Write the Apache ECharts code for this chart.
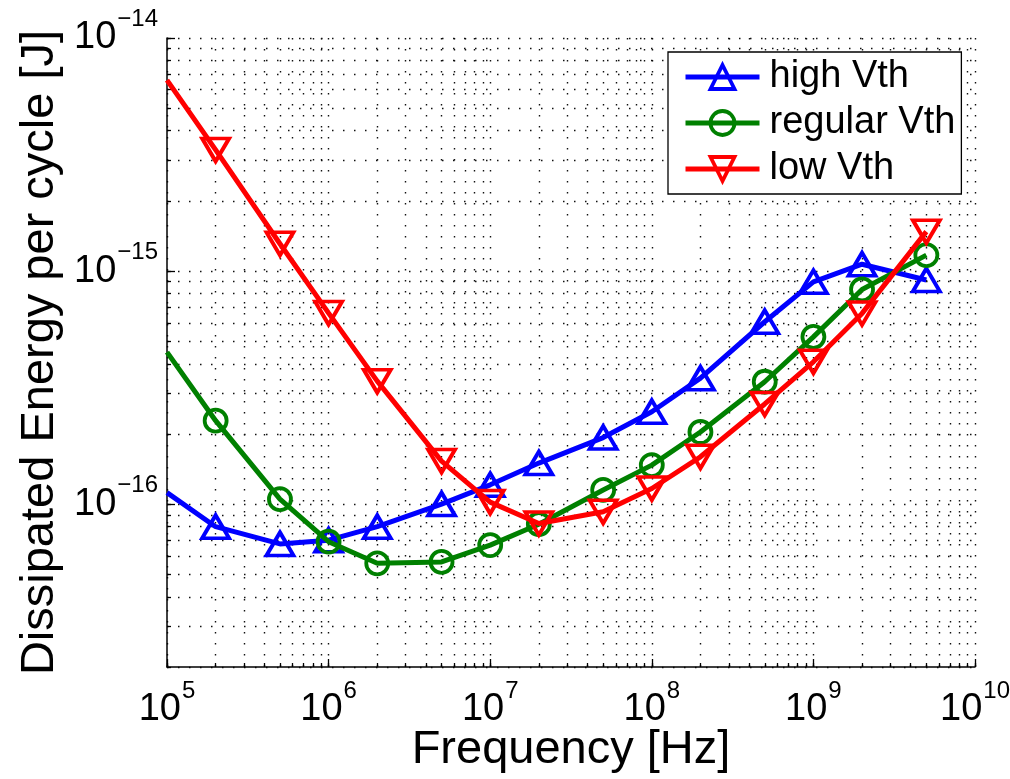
<!DOCTYPE html>
<html><head><meta charset="utf-8">
<script src="https://cdn.jsdelivr.net/npm/echarts@6.0.0/dist/echarts.min.js"></script>
<style>html,body{margin:0;padding:0;background:#fff}#c{width:1010px;height:779px}</style>
</head><body><div id="c"></div>
<script>
const frequencies = [1e5, 2e5, 5e5, 1e6, 2e6, 5e6, 1e7, 2e7, 5e7, 1e8, 2e8, 5e8, 1e9, 2e9, 5e9];
const highVth    = [1.12e-16, 8.0e-17, 6.75e-17, 7.0e-17, 8.0e-17, 1.0e-16, 1.21e-16, 1.50e-16, 1.93e-16, 2.49e-16, 3.47e-16, 6.06e-16, 8.99e-16, 1.07e-15, 9.15e-16];
const regularVth = [4.49e-16, 2.28e-16, 1.05e-16, 6.9e-17, 5.57e-17, 5.65e-17, 6.67e-17, 8.2e-17, 1.15e-16, 1.47e-16, 2.04e-16, 3.35e-16, 5.22e-16, 8.34e-16, 1.17e-15];
const lowVth     = [6.6e-15, 3.31e-15, 1.31e-15, 6.6e-16, 3.37e-16, 1.53e-16, 1.02e-16, 8.26e-17, 9.27e-17, 1.167e-16, 1.596e-16, 2.69e-16, 4.08e-16, 6.58e-16, 1.476e-15];
const seriesNames = ['high Vth', 'regular Vth', 'low Vth'];
const xMajorTicks = [1e5, 1e6, 1e7, 1e8, 1e9, 1e10];
const yDecades = [1e-17, 1e-16, 1e-15, 1e-14];
const yMajorTicks = [1e-16, 1e-15, 1e-14];
const minorMantissas = [2, 3, 4, 5, 6, 7, 8, 9];
const xMin = 1e5, xMax = 1e10, yMin = 2e-17, yMax = 1e-14;

function withMinor(decades, lo, hi) {
  const out = [];
  decades.forEach(d => {
    if (d >= lo && d <= hi) out.push(d);
    minorMantissas.forEach(m => {
      const v = parseFloat((m * d).toPrecision(12));
      if (v >= lo * 0.999999 && v <= hi * 1.000001) out.push(v);
    });
  });
  return out.sort((a, b) => a - b);
}
const xAllTicks = withMinor(xMajorTicks, xMin, xMax);
const yAllTicks = withMinor(yDecades, yMin, yMax);

const FONT = 'Liberation Sans';
const supFmt = v => {
  const e = Math.round(Math.log10(v));
  return '{b|10}{e|' + (e < 0 ? '\u2212' + (-e) : e) + '}';
};
const rich = {
  b: { fontSize: 38, fontFamily: FONT, color: '#000', lineHeight: 38, verticalAlign: 'middle' },
  e: { fontSize: 24, fontFamily: FONT, color: '#000', lineHeight: 24, padding: [0, 0, 37, 1], verticalAlign: 'middle' }
};
const gridLine = { show: true, lineStyle: { color: '#111', width: 1.4, type: [1.5, 9.5] } };
const axisLineStyle = { show: true, onZero: false, lineStyle: { color: '#000', width: 1.5 } };

const colors = ['#0000ff', '#008000', '#ff0000'];
const symbols = ['triangle', 'circle', 'triangle'];
const rotates = [0, 0, 180];
const sizes = [[27, 23], 22, [27, 23]];
const dataSets = [highVth, regularVth, lowVth];

const series = dataSets.map((vals, k) => ({
  type: 'line',
  name: seriesNames[k],
  xAxisIndex: 0, yAxisIndex: 0,
  data: frequencies.map((f, i) => i === 0 ? { value: [f, vals[i]], symbol: 'none' } : [f, vals[i]]),
  symbol: symbols[k],
  symbolRotate: rotates[k],
  symbolSize: sizes[k],
  showAllSymbol: true,
  lineStyle: { color: colors[k], width: 5 },
  itemStyle: { color: 'rgba(255,255,255,0)', borderColor: colors[k], borderWidth: 3.8 },
  emphasis: { disabled: true },
  z: 3 + k
}));

const chart = echarts.init(document.getElementById('c'), null, { renderer: 'canvas' });
chart.setOption({
  animation: false,
  backgroundColor: '#fff',
  grid: { left: 167, right: 35, top: 38, bottom: 112, containLabel: false, outerBoundsMode: 'none' },
  xAxis: [
    {
      type: 'log', logBase: 10, min: xMin, max: xMax, position: 'bottom',
      name: 'Frequency [Hz]', nameLocation: 'middle', nameGap: 60, nameMoveOverlap: false,
      nameTextStyle: { fontSize: 47, fontFamily: FONT, color: '#000' },
      axisLine: axisLineStyle,
      axisTick: { show: true, inside: true, length: 8, customValues: xMajorTicks, lineStyle: { color: '#000', width: 1.3 } },
      axisLabel: { show: true, customValues: xMajorTicks, margin: 24, formatter: supFmt, rich: rich, showMinLabel: true, showMaxLabel: true },
      splitLine: { show: false }
    },
    {
      type: 'log', logBase: 10, min: xMin, max: xMax, position: 'bottom', gridIndex: 0,
      axisLine: { show: false },
      axisTick: { show: true, inside: true, length: 4, customValues: xAllTicks, lineStyle: { color: '#000', width: 1.3 } },
      axisLabel: { show: false },
      splitLine: gridLine
    }
  ],
  yAxis: [
    {
      type: 'log', logBase: 10, min: yMin, max: yMax, position: 'left',
      name: 'Dissipated Energy per cycle [J]', nameLocation: 'middle', nameGap: 103, nameMoveOverlap: false,
      nameTextStyle: { fontSize: 47, fontFamily: FONT, color: '#000' },
      axisLine: axisLineStyle,
      axisTick: { show: true, inside: true, length: 8, customValues: yMajorTicks, lineStyle: { color: '#000', width: 1.3 } },
      axisLabel: { show: true, customValues: yMajorTicks, margin: 9, formatter: supFmt, rich: rich, showMinLabel: true, showMaxLabel: true },
      splitLine: { show: false }
    },
    {
      type: 'log', logBase: 10, min: yMin, max: yMax, position: 'left', gridIndex: 0,
      axisLine: { show: false },
      axisTick: { show: true, inside: true, length: 4, customValues: yAllTicks, lineStyle: { color: '#000', width: 1.3 } },
      axisLabel: { show: false },
      splitLine: gridLine
    }
  ],
  legend: {
    show: true, orient: 'vertical', left: 668, top: 52,
    data: seriesNames,
    padding: [6, 6, 6, 15],
    itemGap: 8,
    itemWidth: 74, itemHeight: 30,
    backgroundColor: '#fff', borderColor: '#000', borderWidth: 1.3,
    lineStyle: { width: 5 },
    itemStyle: { borderWidth: 3.8 },
    textStyle: { fontSize: 38, fontFamily: FONT, color: '#000', padding: [0, 0, 0, 5] },
    selectedMode: false
  },
  series: series
});
</script></body></html>
